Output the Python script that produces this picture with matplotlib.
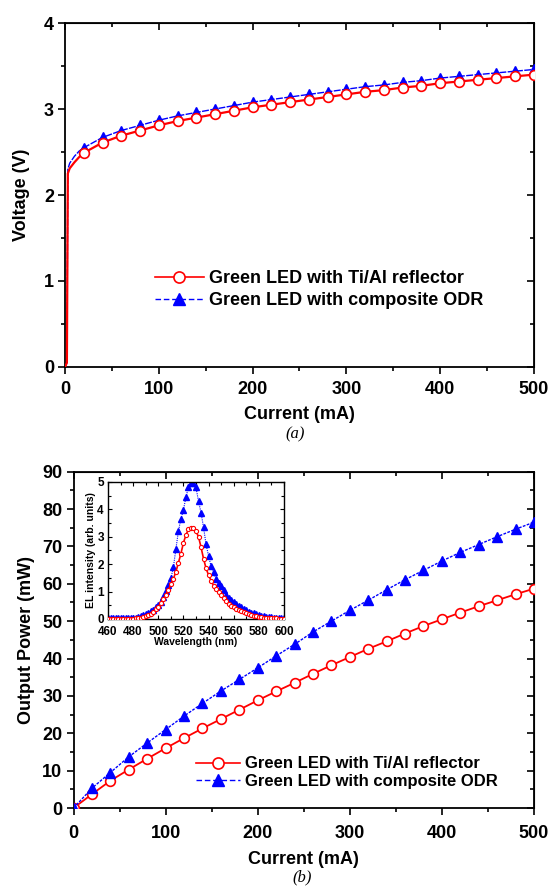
import numpy as np
import matplotlib
matplotlib.use("Agg")
import matplotlib.pyplot as plt
from matplotlib.ticker import MultipleLocator
from matplotlib.lines import Line2D

plt.rcParams['font.family'] = ['Liberation Sans', 'DejaVu Sans']
plt.rcParams['font.weight'] = 'bold'

# ---------------- data: panel (a) I-V ----------------
current_a = [0, 2, 3, 5, 10, 15, 20, 40, 60, 80, 100, 120, 140, 160, 180, 200, 220, 240,
             260, 280, 300, 320, 340, 360, 380, 400, 420, 440, 460, 480, 500]
volt_tial = [0, 0.05, 2.25, 2.31, 2.38, 2.44,
             2.49, 2.61, 2.69, 2.75, 2.81, 2.86, 2.90, 2.94, 2.98, 3.02, 3.05, 3.08, 3.11,
             3.14, 3.17, 3.20, 3.22, 3.25, 3.27, 3.30, 3.32, 3.34, 3.36, 3.38, 3.40]
volt_odr = [0, 0.05, 2.30, 2.37, 2.45, 2.51,
            2.55, 2.67, 2.75, 2.81, 2.87, 2.92, 2.96, 3.00, 3.04, 3.08, 3.11, 3.14, 3.17,
            3.20, 3.23, 3.26, 3.28, 3.31, 3.33, 3.36, 3.38, 3.40, 3.42, 3.44, 3.46]

# ---------------- data: panel (b) L-I ----------------
current_b = [0, 20, 40, 60, 80, 100, 120, 140, 160, 180, 200, 220, 240, 260, 280, 300,
             320, 340, 360, 380, 400, 420, 440, 460, 480, 500]
power_tial = [0, 3.7, 7.3, 10.3, 13.2, 16.0, 18.7, 21.3, 23.8, 26.3, 28.8, 31.2, 33.5, 35.9,
              38.2, 40.4, 42.6, 44.6, 46.7, 48.7, 50.5, 52.3, 54.0, 55.6, 57.2, 58.7]
power_odr = [0, 5.3, 9.5, 13.7, 17.4, 21.0, 24.6, 28.0, 31.3, 34.4, 37.5, 40.7, 43.8, 47.1,
             50.0, 52.9, 55.6, 58.4, 61.1, 63.6, 66.1, 68.4, 70.5, 72.6, 74.6, 76.5]

# ---------------- data: inset EL spectra ----------------
wavelength = [460, 462, 464, 466, 468, 470, 472, 474, 476, 478, 480, 482, 484, 486, 488, 490,
              492, 494, 496, 498, 500, 502, 504, 506, 508, 510, 512, 514, 516, 518, 520, 522,
              524, 526, 528, 530, 532, 534, 536, 538, 540, 542, 544, 546, 548, 550, 552, 554,
              556, 558, 560, 562, 564, 566, 568, 570, 572, 574, 576, 578, 580, 582, 584, 586,
              588, 590, 592, 594, 596, 598, 600]
el_tial = [0.0, 0.0, 0.0, 0.0, 0.0, 0.0, 0.0, 0.0, 0.0, 0.01, 0.01, 0.02, 0.03, 0.05, 0.07, 0.10,
           0.14, 0.19, 0.26, 0.35, 0.45, 0.58, 0.72, 0.88, 1.05, 1.27, 1.46, 1.72, 2.05, 2.38, 2.78, 3.06,
           3.28, 3.33, 3.31, 3.20, 3.00, 2.62, 2.20, 1.85, 1.60, 1.40, 1.22, 1.08, 0.97, 0.86, 0.76, 0.66,
           0.55, 0.49, 0.43, 0.38, 0.34, 0.29, 0.25, 0.21, 0.18, 0.15, 0.12, 0.10, 0.08, 0.06, 0.05, 0.04,
           0.03, 0.03, 0.02, 0.02, 0.01, 0.01, 0.01]
el_odr = [0.03, 0.02, 0.05, 0.02, 0.03, 0.02, 0.05, 0.02, 0.03, 0.02, 0.03, 0.04, 0.06, 0.09, 0.13, 0.18,
          0.22, 0.28, 0.34, 0.42, 0.50, 0.62, 0.80, 1.02, 1.25, 1.48, 1.88, 2.55, 3.20, 3.65, 3.98, 4.45,
          4.80, 4.95, 4.97, 4.80, 4.30, 3.88, 3.35, 2.72, 2.30, 1.92, 1.70, 1.46, 1.30, 1.20, 1.05, 0.88,
          0.78, 0.70, 0.62, 0.55, 0.48, 0.42, 0.37, 0.32, 0.27, 0.23, 0.20, 0.17, 0.14, 0.12, 0.10, 0.08,
          0.07, 0.08, 0.05, 0.04, 0.03, 0.02, 0.02]

label_tial = 'Green LED with Ti/Al reflector'
label_odr = 'Green LED with composite ODR'

RED = '#ff0000'
BLUE = '#0000ff'

fig = plt.figure(figsize=(5.51, 8.86), dpi=100)


def style_axes(ax, xmaj, xmin, ymaj, ymin, fs=13, pad=5):
    ax.xaxis.set_major_locator(MultipleLocator(xmaj))
    ax.xaxis.set_minor_locator(MultipleLocator(xmin))
    ax.yaxis.set_major_locator(MultipleLocator(ymaj))
    ax.yaxis.set_minor_locator(MultipleLocator(ymin))
    ax.tick_params(which='both', direction='out', top=False, right=False, width=1.2)
    ax.tick_params(which='major', length=5, labelsize=fs)
    ax.tick_params(axis='x', which='major', pad=pad)
    ax.tick_params(axis='y', which='major', pad=3)
    ax.tick_params(which='minor', length=3)
    for s in ax.spines.values():
        s.set_linewidth(1.3)
    ax2 = ax.secondary_xaxis('top')
    ax2.xaxis.set_major_locator(MultipleLocator(xmaj))
    ax2.xaxis.set_minor_locator(MultipleLocator(xmin))
    ax2.tick_params(which='both', direction='in', width=1.2, labeltop=False)
    ax2.tick_params(which='major', length=5)
    ax2.tick_params(which='minor', length=3)
    ax3 = ax.secondary_yaxis('right')
    ax3.yaxis.set_major_locator(MultipleLocator(ymaj))
    ax3.yaxis.set_minor_locator(MultipleLocator(ymin))
    ax3.tick_params(which='both', direction='in', width=1.2, labelright=False)
    ax3.tick_params(which='major', length=5)
    ax3.tick_params(which='minor', length=3)


# ---------------- panel (a) ----------------
axA = fig.add_axes([0.118, 0.5858, 0.851, 0.3882])
ca = np.array(current_a)
mask_a = ca >= 20
axA.plot(current_a, volt_tial, color=RED, lw=1.6, zorder=3)
axA.plot(ca[mask_a], np.array(volt_tial)[mask_a], ls='none', marker='o', ms=7,
         mfc='white', mec=RED, mew=1.2, zorder=4)
axA.plot(current_a, volt_odr, color=BLUE, lw=1.0, ls=(0, (5, 1)), zorder=2)
axA.plot(ca[mask_a], np.array(volt_odr)[mask_a], ls='none', marker='^', ms=7.5,
         color=BLUE, zorder=3)
axA.set_xlim(0, 500)
axA.set_ylim(0, 4)
style_axes(axA, 100, 50, 1, 0.5, pad=5)
axA.set_xlabel('Current (mA)', fontsize=13, fontweight='bold', labelpad=6)
axA.set_ylabel('Voltage (V)', fontsize=13, fontweight='bold', labelpad=10)

hA = [Line2D([], [], color=RED, lw=1.2, marker='o', ms=8, mfc='white', mec=RED, mew=1.2),
      Line2D([], [], color=BLUE, lw=1.0, ls=(0, (4, 2)), marker='^', ms=8)]
axA.legend(hA, [label_tial, label_odr], loc='center left', bbox_to_anchor=(0.192, 0.224),
           frameon=False, prop={'weight': 'bold', 'size': 13},
           handlelength=2.7, handletextpad=0.3, labelspacing=0.28, borderpad=0,
           borderaxespad=0)
fig.text(0.536, 0.510, '(a)', fontsize=12, family='Liberation Serif', style='italic',
         fontweight='normal', ha='center', va='center')

# ---------------- panel (b) ----------------
axB = fig.add_axes([0.1334, 0.088, 0.8356, 0.3796])
axB.plot(current_b, power_tial, color=RED, lw=1.3, marker='o', ms=7, mfc='white',
         mec=RED, mew=1.2, zorder=3)
axB.plot(current_b, power_odr, color=BLUE, lw=1.0, ls=(0, (2, 1)), marker='^', ms=7.5,
         mec=BLUE, mfc=BLUE, zorder=3)
axB.set_xlim(0, 500)
axB.set_ylim(0, 90)
style_axes(axB, 100, 50, 10, 5, pad=7)
axB.set_xlabel('Current (mA)', fontsize=13, fontweight='bold', labelpad=7)
axB.set_ylabel('Output Power (mW)', fontsize=13, fontweight='bold', labelpad=5)
hB = [Line2D([], [], color=RED, lw=1.2, marker='o', ms=8, mfc='white', mec=RED, mew=1.2),
      Line2D([], [], color=BLUE, lw=1.0, ls=(0, (4, 2)), marker='^', ms=8)]
axB.legend(hB, [label_tial, label_odr], loc='center left', bbox_to_anchor=(0.266, 0.105),
           frameon=False, prop={'weight': 'bold', 'size': 12},
           handlelength=2.65, handletextpad=0.3, labelspacing=0.15, borderpad=0,
           borderaxespad=0)
fig.text(0.548, 0.0102, '(b)', fontsize=12, family='Liberation Serif', style='italic',
         fontweight='normal', ha='center', va='center')

# ---------------- inset ----------------
axI = fig.add_axes([0.196, 0.3014, 0.3194, 0.1546])
axI.plot(wavelength, el_tial, color=RED, lw=1.2, marker='o', ms=3, mfc='white', mec=RED,
         mew=0.8, zorder=3)
axI.plot(wavelength, el_odr, color=BLUE, lw=0.8, ls=(0, (1, 1)), marker='^', ms=4,
         mec=BLUE, mfc=BLUE, zorder=2)
axI.set_xlim(460, 600)
axI.set_ylim(0, 5)
axI.xaxis.set_major_locator(MultipleLocator(20))
axI.xaxis.set_minor_locator(MultipleLocator(10))
axI.yaxis.set_major_locator(MultipleLocator(1))
axI.yaxis.set_minor_locator(MultipleLocator(0.5))
axI.tick_params(which='both', direction='in', top=True, right=True, width=0.8)
axI.tick_params(which='major', length=3, labelsize=8.5)
axI.tick_params(axis='x', which='major', pad=5)
axI.tick_params(axis='y', which='major', pad=3)
axI.tick_params(which='minor', length=2)
for s in axI.spines.values():
    s.set_linewidth(1.0)
axI.set_xlabel('Wavelength (nm)', fontsize=7.5, fontweight='bold', labelpad=-1)
axI.set_ylabel('EL intensity (arb. units)', fontsize=7.5, fontweight='bold', labelpad=1)

fig.savefig('out.png', dpi=100)
